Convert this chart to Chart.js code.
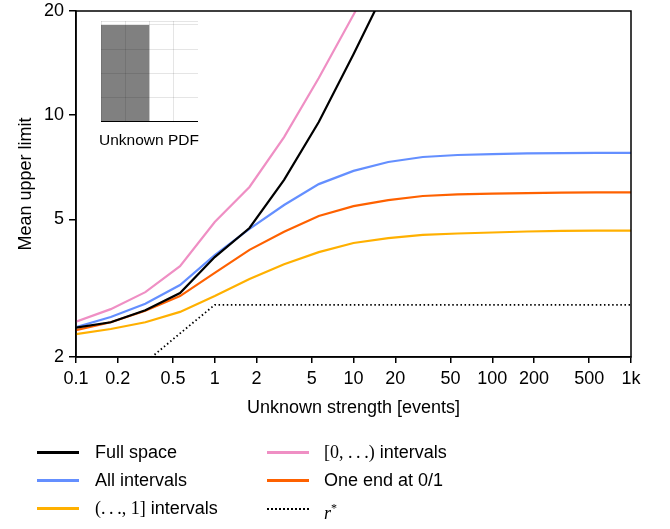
<!DOCTYPE html>
<html>
<head>
<meta charset="utf-8">
<script src="https://cdn.jsdelivr.net/npm/chart.js@4.4.1/dist/chart.umd.min.js"></script>
<style>
  body { margin: 0; background: #fff; }
  #wrap { position: relative; width: 670px; height: 529px; font-family: "Liberation Sans", Arial, sans-serif; color: #000; }
  #main { position: absolute; left: 0; top: 0; }
  #inset { position: absolute; left: 101px; top: 21px; }
  .pdf-label { position: absolute; left: 99px; top: 131px; width: 100px; text-align: center; font-size: 15.5px; }
  .leg { position: absolute; font-size: 18px; line-height: 20px; white-space: nowrap; }
  .sw { position: absolute; width: 42px; height: 0; border-top: 3px solid #000; }
  .m { font-family: "Liberation Serif", "DejaVu Serif", serif; }
</style>
</head>
<body>
<div id="wrap">
  <canvas id="main" width="670" height="529"></canvas>
  <canvas id="inset" width="97" height="101"></canvas>
  <div class="pdf-label">Unknown PDF</div>

  <div class="sw" style="left:37px;top:451px;border-color:#000"></div>
  <div class="leg" style="left:95px;top:442px">Full space</div>
  <div class="sw" style="left:37px;top:479px;border-color:#648fff"></div>
  <div class="leg" style="left:95px;top:470px">All intervals</div>
  <div class="sw" style="left:37px;top:507px;border-color:#ffb000"></div>
  <div class="leg" style="left:95px;top:498px"><span class="m">(.&thinsp;.&thinsp;., 1]</span> intervals</div>

  <div class="sw" style="left:267px;top:451px;border-color:#ef8fc4"></div>
  <div class="leg" style="left:324px;top:442px"><span class="m">[0, .&thinsp;.&thinsp;.)</span> intervals</div>
  <div class="sw" style="left:267px;top:479px;border-color:#fe6100"></div>
  <div class="leg" style="left:324px;top:470px">One end at 0/1</div>
  <div class="sw" style="left:267px;top:508px;border-top:2px dotted #000"></div>
  <div class="leg" style="left:324px;top:498px"><span class="m"><i>r</i><sup style="font-size:12px">*</sup></span></div>
</div>

<script>
// signal strength grid (4 points per decade)
const strength = [0.1, 0.178, 0.316, 0.562, 1, 1.78, 3.16, 5.62, 10, 17.8, 31.6, 56.2, 100, 178, 316, 562, 1000];

const fullSpace    = [2.43, 2.52, 2.73, 3.06, 3.89, 4.72, 6.5, 9.55, 15.0, 24, 40, 68, 115, 200, 350, 610, 1070];
const allIntervals = [2.44, 2.61, 2.85, 3.23, 3.94, 4.69, 5.5, 6.32, 6.9, 7.32, 7.57, 7.67, 7.72, 7.75, 7.77, 7.78, 7.78];
const upperOne     = [2.33, 2.41, 2.52, 2.70, 3.0, 3.36, 3.71, 4.02, 4.27, 4.41, 4.51, 4.55, 4.58, 4.61, 4.63, 4.64, 4.64];
const lowerZero    = [2.53, 2.75, 3.08, 3.66, 4.91, 6.2, 8.64, 12.8, 19.5, 30, 50, 85, 145, 250, 440, 770, 1350];
const oneEnd       = [2.39, 2.52, 2.72, 3.0, 3.5, 4.08, 4.6, 5.11, 5.46, 5.68, 5.84, 5.9, 5.93, 5.95, 5.97, 5.98, 5.98];
const rStar        = [1.31, 1.59, 1.93, 2.34, 2.83, 2.83, 2.83, 2.83, 2.83, 2.83, 2.83, 2.83, 2.83, 2.83, 2.83, 2.83, 2.83];

const xTicks = [0.1, 0.2, 0.5, 1, 2, 5, 10, 20, 50, 100, 200, 500, 1000];
const xTickLabels = ['0.1', '0.2', '0.5', '1', '2', '5', '10', '20', '50', '100', '200', '500', '1k'];
const yTicks = [2, 5, 10, 20];
const yTickLabels = ['2', '5', '10', '20'];

// inset: flat PDF on [0, 0.5]
const pdfX = [0, 0.5, 0.5];
const pdfY = [1, 1, 0];

function pts(ys) {
  return strength.map((s, i) => ({x: s, y: ys[i]}));
}

function series(label, ys, color, extra) {
  return Object.assign({
    label: label,
    data: pts(ys),
    borderColor: color,
    backgroundColor: color,
    borderWidth: 2.2,
    pointRadius: 0,
    tension: 0,
    fill: false,
  }, extra || {});
}

const frame = {
  id: 'frame',
  afterDraw(chart) {
    const a = chart.chartArea;
    const ctx = chart.ctx;
    ctx.save();
    ctx.strokeStyle = '#000';
    ctx.lineWidth = 1.5;
    ctx.strokeRect(a.left, a.top, a.right - a.left, a.bottom - a.top);
    ctx.restore();
  }
};

const font = {family: '"Liberation Sans", Arial, sans-serif', size: 18};

new Chart(document.getElementById('main').getContext('2d'), {
  type: 'line',
  data: {
    datasets: [
      series('Full space', fullSpace, '#000000'),
      series('All intervals', allIntervals, '#648fff'),
      series('(…, 1] intervals', upperOne, '#ffb000'),
      series('[0, …) intervals', lowerZero, '#ef8fc4'),
      series('One end at 0/1', oneEnd, '#fe6100'),
      series('r*', rStar, '#000000', {borderWidth: 1.8, borderDash: [1.5, 2.6]}),
    ]
  },
  options: {
    responsive: false,
    devicePixelRatio: 1,
    animation: false,
    layout: {padding: {left: 0, top: 11, right: 39, bottom: 110}},
    plugins: {legend: {display: false}, tooltip: {enabled: false}},
    scales: {
      x: {
        type: 'logarithmic',
        min: 0.1,
        max: 1000,
        afterBuildTicks: (scale) => { scale.ticks = xTicks.map(v => ({value: v})); },
        afterFit: (scale) => { scale.height = 62; },
        ticks: {
          autoSkip: false,
          maxRotation: 0,
          color: '#000',
          font: font,
          padding: 5,
          callback: (v, i) => xTickLabels[i],
        },
        grid: {drawOnChartArea: false, color: '#000', lineWidth: 1.5, tickLength: 6},
        border: {color: '#000', width: 1.5},
        title: {display: true, text: 'Unknown strength [events]', color: '#000', font: font, padding: 0},
      },
      y: {
        type: 'logarithmic',
        min: 2,
        max: 20,
        afterBuildTicks: (scale) => { scale.ticks = yTicks.map(v => ({value: v})); },
        afterFit: (scale) => {
          scale.width = 76;
          scale.paddingTop = 0;
          scale.paddingBottom = 0;
        },
        ticks: {
          autoSkip: false,
          color: '#000',
          font: font,
          padding: 5,
          callback: (v, i) => yTickLabels[i],
        },
        grid: {drawOnChartArea: false, color: '#000', lineWidth: 1.5, tickLength: 7},
        border: {color: '#000', width: 1.5},
        title: {display: true, text: 'Mean upper limit', color: '#000', font: font, padding: {top: 15}},
      },
    },
  },
  plugins: [frame],
});

// small inset with the signal PDF
new Chart(document.getElementById('inset').getContext('2d'), {
  type: 'line',
  data: {
    datasets: [{
      data: pdfX.map((x, i) => ({x: x, y: pdfY[i]})),
      borderWidth: 0,
      borderColor: 'rgba(0,0,0,0)',
      backgroundColor: 'rgb(128,128,128)',
      pointRadius: 0,
      fill: 'origin',
    }]
  },
  options: {
    responsive: false,
    devicePixelRatio: 1,
    animation: false,
    layout: {padding: 0},
    plugins: {legend: {display: false}, tooltip: {enabled: false}},
    scales: {
      x: {
        type: 'linear',
        min: 0,
        max: 1,
        afterBuildTicks: (scale) => { scale.ticks = [0, 0.25, 0.5, 0.75, 1].map(v => ({value: v})); },
        afterFit: (scale) => { scale.height = 0; },
        ticks: {display: false},
        grid: {color: 'rgba(0,0,0,0.1)', lineWidth: 1, drawTicks: false, z: 1},
        border: {color: '#000', width: 2, z: 2},
      },
      y: {
        type: 'linear',
        min: 0,
        max: 1.04,
        afterBuildTicks: (scale) => { scale.ticks = [0.25, 0.5, 0.75, 1, 1.04].map(v => ({value: v})); },
        afterFit: (scale) => { scale.width = 0; },
        ticks: {display: false},
        grid: {color: 'rgba(0,0,0,0.1)', lineWidth: 1, drawTicks: false, z: 1},
        border: {display: false},
      },
    },
  },
});
</script>
</body>
</html>
